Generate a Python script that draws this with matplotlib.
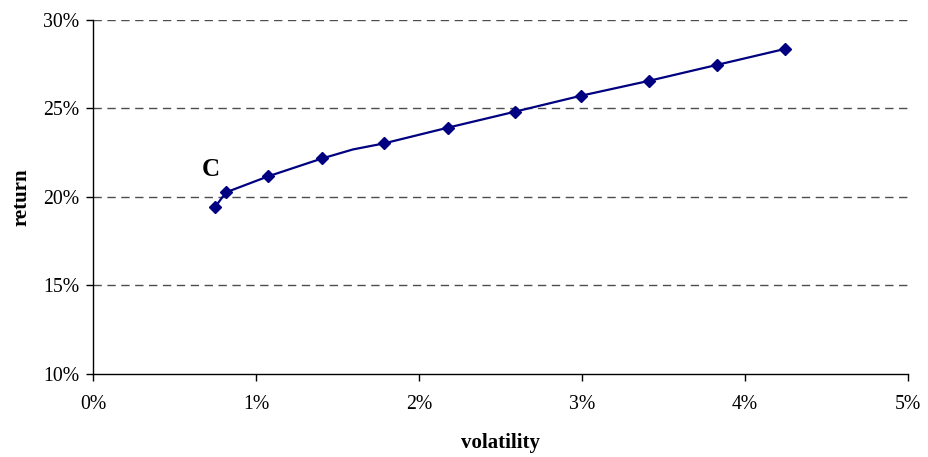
import matplotlib.pyplot as plt
from matplotlib.ticker import FuncFormatter

vol = [0.748, 0.816, 1.074, 1.405, 1.785, 2.178, 2.589, 2.994, 3.411, 3.828, 4.245]
ret = [19.41, 20.25, 21.15, 22.16, 23.01, 23.90, 24.80, 25.70, 26.54, 27.44, 28.34]

# the curve itself has one extra bend point without a marker
curve_vol = [0.748, 0.816, 1.074, 1.405, 1.595, 1.785, 2.178, 2.589, 2.994, 3.411, 3.828, 4.245]
curve_ret = [19.41, 20.25, 21.15, 22.16, 22.67, 23.01, 23.90, 24.80, 25.70, 26.54, 27.44, 28.34]

xticks = [0, 1, 2, 3, 4, 5]
yticks = [10, 15, 20, 25, 30]

plt.rcParams['font.family'] = ['Liberation Serif', 'DejaVu Serif']

fig = plt.figure(figsize=(9.29, 4.57), dpi=100)
ax = fig.add_axes([0.1001, 0.1816, 0.8773, 0.7757])

for y in yticks[1:]:
    ax.axhline(y, color='0.3', lw=1, dashes=(6, 4), zorder=1)

ax.plot(curve_vol, curve_ret, color='#000080', lw=1.6, zorder=2)
ax.plot(vol, ret, ls='none', marker='D', ms=6.5, color='#000080', zorder=3)

ax.text(0.724, 21.55, 'C', fontsize=18, fontweight='bold', ha='center', va='center')

ax.set_xlim(0, 5)
ax.set_ylim(10, 30)
ax.set_xticks(xticks)
ax.set_yticks(yticks)
ax.xaxis.set_major_formatter(FuncFormatter(lambda v, p: '%d%%' % v))
ax.yaxis.set_major_formatter(FuncFormatter(lambda v, p: '%d%%' % v))
ax.tick_params(labelsize=14.2, direction='out', length=5, width=1, color='black')
ax.tick_params(axis='x', pad=10)
ax.tick_params(axis='y', pad=5)

for s in ['top', 'right']:
    ax.spines[s].set_visible(False)
for s in ['left', 'bottom']:
    ax.spines[s].set_color('black')
    ax.spines[s].set_linewidth(1)

ax.set_xlabel('volatility', fontsize=15, fontweight='bold', labelpad=14)
ax.set_ylabel('return', fontsize=15, fontweight='bold', labelpad=8)

fig.savefig('out.png', dpi=100)
